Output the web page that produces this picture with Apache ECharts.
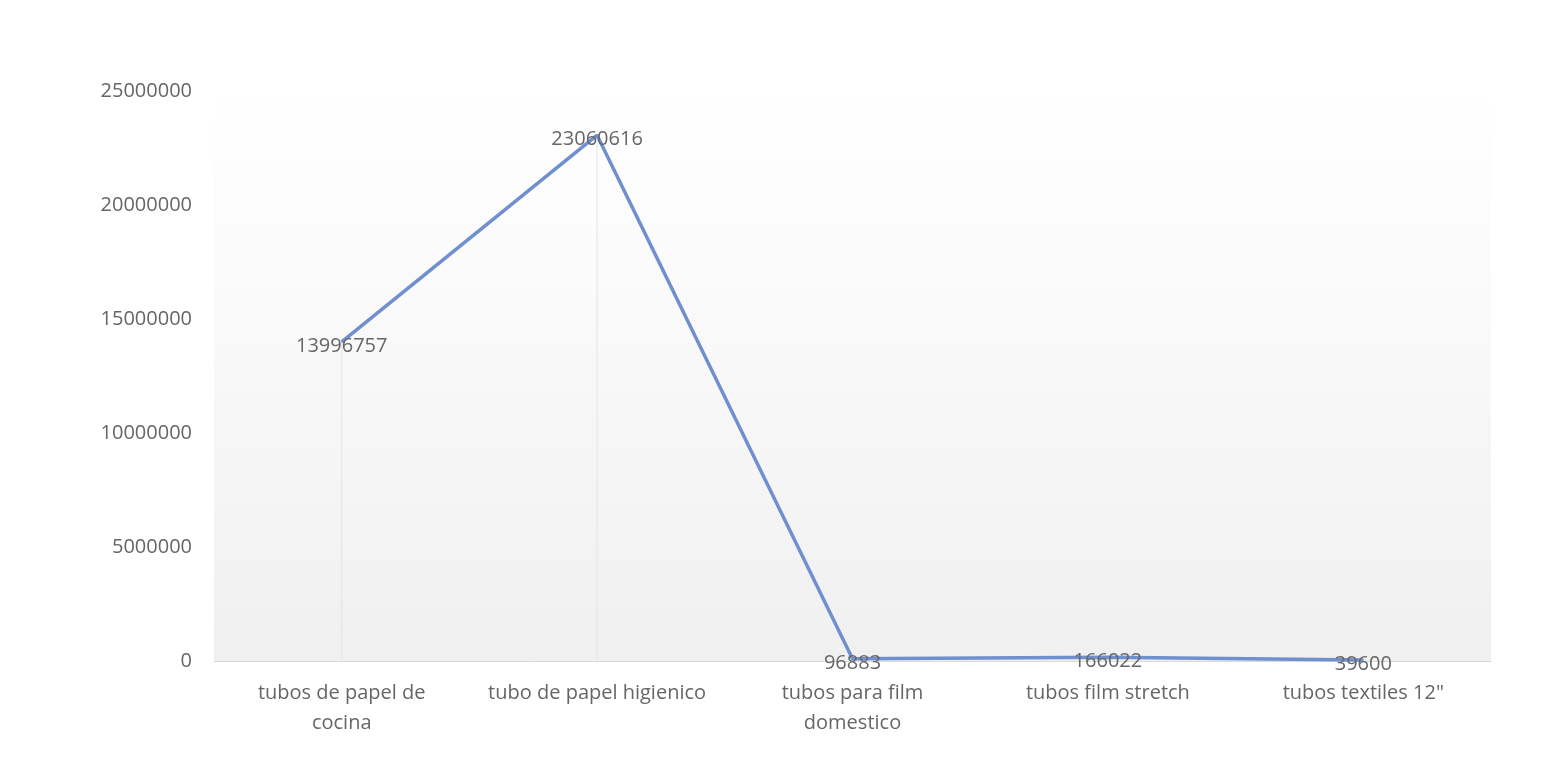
<!DOCTYPE html>
<html><head><meta charset="utf-8">
<script src="https://cdn.jsdelivr.net/npm/echarts@6/dist/echarts.min.js"></script>
<style>html,body{margin:0;padding:0;background:#fff}#c{width:1543px;height:769px}</style>
</head><body><div id="c"></div>
<script>
const categories = ["tubos de papel de\ncocina", "tubo de papel higienico", "tubos para film\ndomestico", "tubos film stretch", "tubos textiles 12\""];
const values = [13996757, 23060616, 96883, 166022, 39600];
const yTicks = [0, 5000000, 10000000, 15000000, 20000000, 25000000];

const chart = echarts.init(document.getElementById('c'));
chart.setOption({
  animation: false,
  grid: {left: 214, right: 52, top: 91, bottom: 108, show: true, borderWidth: 0,
    backgroundColor: new echarts.graphic.LinearGradient(0, 0, 0, 1, [
      {offset: 0, color: '#ffffff'}, {offset: 0.3, color: '#fbfbfb'}, {offset: 1, color: '#f0f0f0'}])},
  xAxis: {type: 'category', data: categories, boundaryGap: true,
    axisLine: {lineStyle: {color: '#d9d9d9', width: 1}}, axisTick: {show: false},
    axisLabel: {color: '#666666', fontSize: 20, fontFamily: 'Open Sans', lineHeight: 30, margin: 17, interval: 0}},
  yAxis: {type: 'value', min: 0, max: 25000000, interval: 5000000,
    axisLine: {show: false}, axisTick: {show: false}, splitLine: {show: false},
    axisLabel: {color: '#666666', fontSize: 20, fontFamily: 'Open Sans', margin: 22,
      formatter: v => yTicks.includes(v) ? String(v) : ''}},
  series: [
    {type: 'bar', data: values, barWidth: 1, silent: true, itemStyle: {color: '#e4e4e4'}, z: 1},
    {type: 'line', data: values, symbol: 'circle', symbolSize: 1, showSymbol: true, z: 3,
      itemStyle: {color: '#6f8fcf'},
      lineStyle: {color: '#6f8fcf', width: 3.5},
      labelLayout: {hideOverlap: false, dy: 15},
      label: {show: true, position: 'top', distance: 0, color: '#666666', fontSize: 20, fontFamily: 'Open Sans',
        formatter: p => String(p.value)}}
  ]
});
</script></body></html>
